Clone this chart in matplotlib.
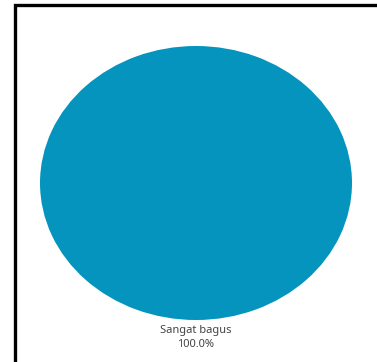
import matplotlib
matplotlib.use("Agg")
import matplotlib.pyplot as plt
from matplotlib.patches import Rectangle

categories = ["Sangat bagus"]
values = [100]
colors = ["#0494bd"]

plt.rcParams['font.family'] = ['Noto Sans', 'DejaVu Sans']

fig = plt.figure(figsize=(3.77, 3.62), dpi=100)
fig.patch.set_facecolor("white")

# black frame (open at right/bottom like the screenshot)
W, H = 377, 362
fig.add_artist(Rectangle((14.5 / W, -0.1), 1.2, 1 - 4.5 / H + 0.1,
                         transform=fig.transFigure, fill=False,
                         edgecolor="black", linewidth=2.4))

ax = fig.add_axes([40 / W, (H - 320) / H, 312 / W, 274 / H])
total = sum(values)
labels = [f"{c}\n{v / total * 100:.1f}%" for c, v in zip(categories, values)]
wedges, texts = ax.pie(values, labels=labels, colors=colors, startangle=90,
                       labeldistance=1.04,
                       textprops=dict(color="#444444", fontsize=8, linespacing=1.3))
for t in texts:
    t.set_ha("center")
    t.set_va("top")
    t.set_multialignment("center")
ax.set_aspect("auto")
ax.set_xlim(-1, 1)
ax.set_ylim(-1, 1)
ax.axis("off")

fig.savefig("out.png", dpi=100)
